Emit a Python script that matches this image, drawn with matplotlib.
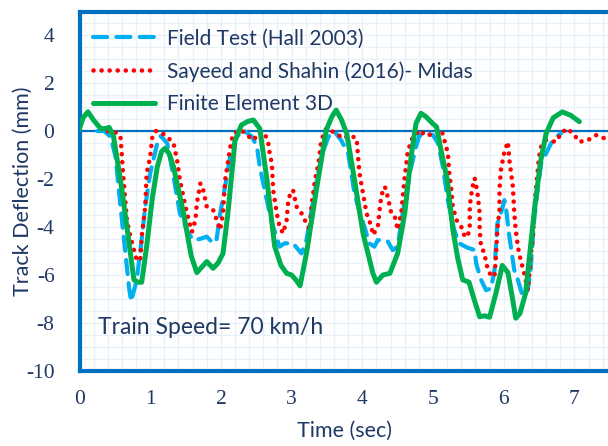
import matplotlib
matplotlib.use("Agg")
import matplotlib.pyplot as plt
from matplotlib.ticker import MultipleLocator

# Field test (Hall 2003)
field_t = [0.25, 0.35, 0.44, 0.51, 0.58, 0.62, 0.70, 0.73, 0.81, 0.88, 0.93, 1.00, 1.10, 1.15,
           1.24, 1.33, 1.42, 1.54, 1.61, 1.70, 1.80, 1.89, 1.94, 1.99, 2.06, 2.13, 2.22, 2.32,
           2.44, 2.51, 2.55, 2.62, 2.69, 2.74, 2.83, 2.90, 3.02, 3.14, 3.21, 3.30, 3.42, 3.52,
           3.61, 3.70, 3.80, 3.89, 3.94, 4.03, 4.10, 4.17, 4.22, 4.36, 4.43, 4.50, 4.57, 4.67,
           4.76, 4.81, 4.90, 5.00, 5.07, 5.14, 5.21, 5.30, 5.37, 5.48, 5.59, 5.61, 5.68, 5.75,
           5.82, 5.87, 5.91, 5.96, 6.01, 6.03, 6.08, 6.15, 6.20, 6.27, 6.34, 6.38, 6.43, 6.48,
           6.53, 6.60, 6.67, 6.74, 6.81]
field_d = [0.00, 0.00, -0.24, -1.07, -3.15, -4.26, -6.50, -7.10, -6.20, -4.50, -3.15, -1.76, -0.51, -0.20,
           -0.51, -1.90, -3.43, -4.26, -4.54, -4.50, -4.40, -4.68, -4.50, -3.43, -2.30, -1.07, -0.24, 0.04,
           -0.24, -0.65, -1.49, -2.46, -3.43, -3.99, -4.82, -4.68, -4.68, -5.10, -4.54, -3.01, -1.07, -0.24,
           -0.03, -0.38, -0.93, -2.60, -3.15, -3.99, -4.68, -4.82, -4.54, -4.60, -4.96, -4.82, -3.43, -1.76,
           -0.65, -0.17, -0.10, -0.17, -0.50, -1.49, -2.88, -4.12, -4.68, -4.85, -4.96, -5.51, -6.20, -6.63,
           -6.56, -5.80, -3.85, -3.43, -2.88, -3.15, -4.40, -5.80, -6.20, -6.90, -6.63, -5.80, -3.70, -2.46,
           -1.35, -0.93, -0.51, -0.24, -0.10]

# Sayeed and Shahin (2016) - Midas
midas_t = [0.40, 0.48, 0.55, 0.58, 0.60, 0.62, 0.65, 0.67, 0.72, 0.77, 0.81, 0.86, 0.88, 0.93,
           0.95, 1.00, 1.03, 1.08, 1.14, 1.24, 1.33, 1.38, 1.42, 1.47, 1.52, 1.59, 1.64, 1.66,
           1.71, 1.75, 1.80, 1.89, 1.94, 1.99, 2.03, 2.06, 2.11, 2.15, 2.18, 2.29, 2.34, 2.46,
           2.55, 2.62, 2.67, 2.69, 2.72, 2.74, 2.79, 2.83, 2.88, 2.93, 2.95, 2.98, 3.02, 3.07,
           3.14, 3.21, 3.26, 3.28, 3.33, 3.38, 3.42, 3.49, 3.63, 3.73, 3.82, 3.92, 3.94, 3.96,
           4.01, 4.06, 4.13, 4.15, 4.22, 4.25, 4.27, 4.32, 4.36, 4.41, 4.46, 4.50, 4.55, 4.60,
           4.64, 4.69, 4.81, 4.90, 5.02, 5.12, 5.18, 5.21, 5.23, 5.26, 5.28, 5.33, 5.40, 5.45,
           5.49, 5.52, 5.52, 5.54, 5.56, 5.59, 5.63, 5.66, 5.66, 5.68, 5.73, 5.75, 5.80, 5.87,
           5.89, 5.91, 5.94, 5.94, 5.96, 6.01, 6.06, 6.08, 6.13, 6.15, 6.17, 6.20, 6.24, 6.29,
           6.34, 6.36, 6.38, 6.41, 6.45, 6.50, 6.53, 6.60, 6.74, 6.81, 6.90, 7.00, 7.07, 7.19,
           7.31, 7.43, 7.50]
midas_d = [0.00, -0.03, -0.10, -0.24, -1.07, -1.90, -3.01, -3.70, -4.40, -4.96, -5.38, -5.38, -4.40, -3.15,
           -1.76, -1.07, -0.24, 0.00, -0.03, -0.24, -0.51, -1.21, -2.04, -2.74, -3.43, -4.20, -3.70, -3.01,
           -2.18, -2.46, -3.15, -3.29, -3.70, -4.12, -3.43, -2.04, -1.07, -0.38, -0.10, 0.04, -0.10, -0.38,
           -0.03, -0.10, -0.51, -0.93, -1.35, -2.46, -3.43, -3.99, -4.26, -3.70, -3.01, -2.60, -2.46, -3.15,
           -3.43, -3.85, -4.12, -3.15, -2.04, -1.35, -0.38, 0.11, -0.10, -0.31, -0.17, -0.31, -1.07, -1.76,
           -2.60, -3.43, -3.99, -4.33, -3.99, -3.15, -2.67, -2.32, -2.74, -3.43, -3.57, -4.12, -3.43, -1.90,
           -0.93, -0.38, 0.04, -0.20, -0.10, 0.04, -0.58, -0.93, -1.76, -2.46, -3.15, -3.70, -3.99, -4.40,
           -4.40, -3.99, -3.15, -2.67, -2.32, -1.97, -2.60, -3.43, -4.12, -4.82, -5.10, -5.51, -5.93, -6.07,
           -5.24, -4.12, -3.29, -2.46, -1.63, -0.86, -0.45, -1.21, -2.32, -3.43, -4.12, -4.82, -5.38, -5.93,
           -6.63, -6.07, -5.24, -4.54, -2.60, -1.07, -0.65, -0.38, -0.45, -0.10, 0.11, -0.17, -0.45, -0.38,
           -0.17, -0.31, -0.25]

# Finite element 3D model
fe_t = [0.00, 0.05, 0.12, 0.20, 0.30, 0.36, 0.42, 0.48, 0.60, 0.72, 0.77, 0.83, 0.88, 0.95,
        1.03, 1.10, 1.16, 1.21, 1.27, 1.33, 1.47, 1.58, 1.66, 1.72, 1.80, 1.89, 1.96, 2.03,
        2.10, 2.20, 2.29, 2.38, 2.46, 2.55, 2.65, 2.76, 2.85, 2.93, 3.00, 3.06, 3.12, 3.21,
        3.35, 3.49, 3.57, 3.63, 3.70, 3.78, 3.89, 4.01, 4.15, 4.20, 4.29, 4.39, 4.50, 4.60,
        4.69, 4.76, 4.83, 4.90, 5.00, 5.05, 5.12, 5.20, 5.28, 5.35, 5.42, 5.51, 5.58, 5.66,
        5.73, 5.80, 5.89, 5.98, 6.06, 6.12, 6.17, 6.23, 6.31, 6.43, 6.52, 6.60, 6.70, 6.83,
        6.95, 7.07]
fe_d = [0.10, 0.55, 0.80, 0.45, 0.10, 0.10, 0.15, -0.20, -2.45, -5.10, -6.20, -6.30, -6.30, -4.80,
        -2.80, -1.50, -0.85, -0.72, -0.95, -1.50, -3.40, -5.20, -5.90, -5.70, -5.44, -5.72, -5.50, -5.10,
        -3.40, -0.40, 0.25, 0.40, 0.46, 0.10, -2.00, -4.80, -5.60, -5.93, -6.00, -6.20, -6.45, -5.10,
        -2.46, 0.04, 0.60, 0.87, 0.50, -0.10, -2.04, -4.26, -5.93, -6.30, -6.00, -5.93, -5.10, -3.43,
        -1.07, 0.32, 0.74, 0.60, 0.30, 0.18, -0.90, -2.00, -4.10, -5.30, -6.20, -6.30, -7.00, -7.74,
        -7.70, -7.76, -6.76, -5.60, -5.90, -6.90, -7.80, -7.60, -6.76, -3.40, -1.30, -0.10, 0.55, 0.80,
        0.65, 0.39]

series_labels = ["Field Test (Hall 2003)",
                 "Sayeed and Shahin (2016)- Midas",
                 "Finite Element 3D"]
x_ticks = [0, 1, 2, 3, 4, 5, 6, 7]
y_ticks = [4, 2, 0, -2, -4, -6, -8, -10]
note_text = "Train Speed= 70 km/h"

navy = "#1F3864"
frame_blue = "#0070C0"
sans = ["Lato", "DejaVu Sans"]

# numbers on the axes are set in a serif face, words in a sans face
plt.rcParams["font.family"] = ["Liberation Serif", "DejaVu Serif"]

fig = plt.figure(figsize=(6.08, 4.46), dpi=100)
ax = fig.add_axes([79.5 / 608, 1 - 371 / 446, 7.5 * 70.7 / 608, (371 - 12.5) / 446])

ax.set_xlim(0, 7.5)
ax.set_ylim(-10, 4.94)

# light gridlines every 0.2 s and 0.5 mm
ax.xaxis.set_minor_locator(MultipleLocator(0.2))
ax.yaxis.set_minor_locator(MultipleLocator(0.5))
ax.grid(which="both", color="#E9F1F8", linewidth=1.0, zorder=0)
ax.set_axisbelow(True)

ax.axhline(0, color=frame_blue, linewidth=1.6, zorder=1)

ax.plot(field_t, field_d, color="#00B0F0", linewidth=3.0, linestyle=(0, (3.4, 2.2)),
        dash_capstyle="round", label=series_labels[0], zorder=2)
ax.plot(midas_t, midas_d, color="#FF0000", linewidth=3.3, linestyle=(0, (0.01, 1.75)),
        dash_capstyle="round", label=series_labels[1], zorder=3)
ax.plot(fe_t, fe_d, color="#00B050", linewidth=3.6, solid_capstyle="round",
        solid_joinstyle="round", label=series_labels[2], zorder=4)

for side in ("left", "top", "bottom", "right"):
    ax.spines[side].set_color(frame_blue)
    ax.spines[side].set_linewidth(3.0)

ax.set_xticks(x_ticks)
ax.set_yticks(y_ticks)
ax.set_xticklabels([str(v) for v in x_ticks])
ax.set_yticklabels([str(v) for v in y_ticks])
ax.tick_params(which="both", length=0)
ax.tick_params(axis="y", pad=18, labelsize=15.5, labelcolor=navy)
ax.tick_params(axis="x", pad=14, labelsize=15.5, labelcolor=navy)

ax.set_xlabel("Time (sec)", fontsize=15.5, color=navy, family=sans, labelpad=8)
ax.set_ylabel("Track Deflection (mm)", fontsize=15.5, color=navy, family=sans)
ax.yaxis.set_label_coords(-(79.5 - 33) / (7.5 * 70.7), 0.5)

ax.text(0.26, -8.2, note_text, fontsize=16.5, color=navy, family=sans, va="center", ha="left")

leg = ax.legend(loc="upper left", bbox_to_anchor=(0.025, 0.955), frameon=False,
                prop={"family": sans, "size": 15}, handlelength=3.0, handletextpad=0.55,
                labelspacing=0.6, borderaxespad=0, borderpad=0)
for txt in leg.get_texts():
    txt.set_color(navy)

fig.savefig("out.png", dpi=100)
